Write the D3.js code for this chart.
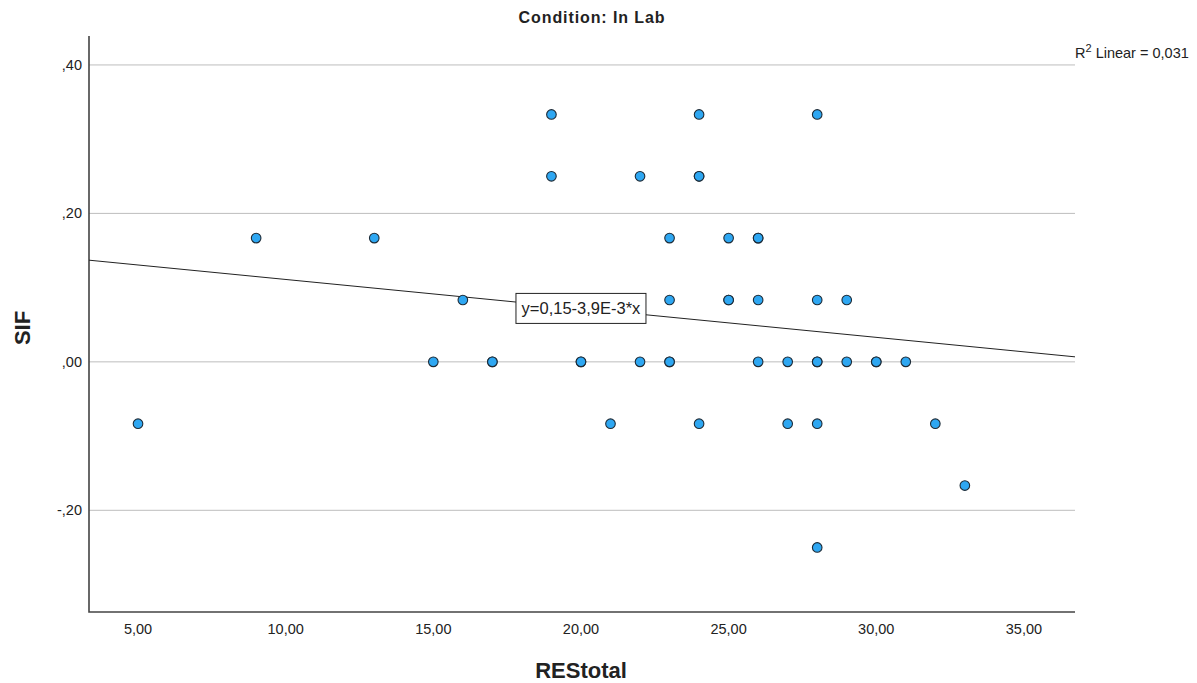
<!doctype html>
<html>
  <head>
    <meta charset="utf-8">
    <script src="https://cdn.jsdelivr.net/npm/d3@7"></script>
    <style>
      body { margin: 0; background: #fff; }
      text { font-family: "Liberation Sans", Arial, sans-serif; fill: #222; }
    </style>
  </head>
  <body>
    <svg id="chart" width="1197" height="683"></svg>

    <script>
      // REStotal / SIF pairs (duplicates drawn twice)
      var resTotal = [19, 24, 28,
                      19, 22, 24, 24,
                      9, 13, 23, 25, 26, 26,
                      16, 23, 25, 25, 26, 28, 29,
                      15, 17, 17, 20, 20, 22, 23, 23, 26, 27, 28, 28, 29, 30, 30, 31,
                      5, 21, 24, 27, 28, 32,
                      33,
                      28];
      var sifValues = [0.3333, 0.3333, 0.3333,
                       0.25, 0.25, 0.25, 0.25,
                       0.1667, 0.1667, 0.1667, 0.1667, 0.1667, 0.1667,
                       0.0833, 0.0833, 0.0833, 0.0833, 0.0833, 0.0833, 0.0833,
                       0, 0, 0, 0, 0, 0, 0, 0, 0, 0, 0, 0, 0, 0, 0, 0,
                       -0.0833, -0.0833, -0.0833, -0.0833, -0.0833, -0.0833,
                       -0.1667,
                       -0.25];

      var xTicks = [5, 10, 15, 20, 25, 30, 35];
      var yTicks = [0.4, 0.2, 0, -0.2];

      // fit line as printed on the chart
      var fitIntercept = 0.15;
      var fitSlope = -0.0039;
      var fitLabel = "y=0,15-3,9E-3*x";
      var r2Value = "0,031";

      var svg = d3.select("#chart");
      // plot box edges (don't call these top/left: window.top is read-only)
      var plotL = 89, plotR = 1075, plotT = 36, plotB = 612;

      var x = d3.scaleLinear().domain([3.34, 36.73]).range([plotL, plotR]);
      var y = d3.scaleLinear().domain([-0.337, 0.439]).range([plotB, plotT]);

      var comma = function(v, digits) {
        return v.toFixed(digits).replace(".", ",").replace(/^(-?)0,/, "$1,");
      };

      // gridlines
      svg.append("g").selectAll("line")
        .data(yTicks)
        .enter().append("line")
          .attr("x1", plotL).attr("x2", plotR)
          .attr("y1", function(d) { return y(d); })
          .attr("y2", function(d) { return y(d); })
          .attr("stroke", "#bdbdbd")
          .attr("stroke-width", 1);

      // y tick labels
      svg.append("g").selectAll("text")
        .data(yTicks)
        .enter().append("text")
          .attr("x", 82)
          .attr("y", function(d) { return y(d); })
          .attr("dy", "0.35em")
          .attr("text-anchor", "end")
          .attr("font-size", 14.5)
          .text(function(d) { return comma(d, 2); });

      // x tick labels
      svg.append("g").selectAll("text")
        .data(xTicks)
        .enter().append("text")
          .attr("x", function(d) { return x(d); })
          .attr("y", 629)
          .attr("dy", "0.35em")
          .attr("text-anchor", "middle")
          .attr("font-size", 14.5)
          .text(function(d) { return d.toFixed(2).replace(".", ","); });

      // axes frame (left + bottom)
      svg.append("path")
        .attr("d", "M" + plotL + "," + plotT + "V" + plotB + "H" + plotR)
        .attr("fill", "none")
        .attr("stroke", "#444")
        .attr("stroke-width", 1.6);

      // regression line
      var x0 = x.domain()[0], x1 = x.domain()[1];
      svg.append("line")
        .attr("x1", x(x0)).attr("y1", y(fitIntercept + fitSlope * x0))
        .attr("x2", x(x1)).attr("y2", y(fitIntercept + fitSlope * x1))
        .attr("stroke", "#222")
        .attr("stroke-width", 1);

      // points
      svg.append("g").selectAll("circle")
        .data(resTotal)
        .enter().append("circle")
          .attr("cx", function(d) { return x(d); })
          .attr("cy", function(d, i) { return y(sifValues[i]); })
          .attr("r", 4.8)
          .attr("fill", "#2ea7f2")
          .attr("stroke", "#1c2a36")
          .attr("stroke-width", 1.1);

      // fit equation box, centred on the line at x = 20
      var lx = 20, ly = fitIntercept + fitSlope * lx;
      var lab = svg.append("g")
        .attr("transform", "translate(" + x(lx) + "," + y(ly) + ")");
      lab.append("rect")
        .attr("x", -65).attr("y", -15)
        .attr("width", 130).attr("height", 30)
        .attr("fill", "#fff")
        .attr("stroke", "#222")
        .attr("stroke-width", 1);
      lab.append("text")
        .attr("text-anchor", "middle")
        .attr("dy", "0.35em")
        .attr("font-size", 16.5)
        .text(fitLabel);

      // R² annotation
      var r2 = svg.append("text")
        .attr("x", 1075)
        .attr("y", 58)
        .attr("font-size", 14.5);
      r2.append("tspan").text("R");
      r2.append("tspan").attr("dy", -6).attr("font-size", 11).text("2");
      r2.append("tspan").attr("dy", 6).text(" Linear = " + r2Value);

      // title
      svg.append("text")
        .attr("x", 592)
        .attr("y", 17)
        .attr("dy", "0.35em")
        .attr("text-anchor", "middle")
        .attr("font-size", 16)
        .attr("letter-spacing", 0.9)
        .attr("font-weight", "bold")
        .text("Condition: In Lab");

      // axis titles
      svg.append("text")
        .attr("x", 581)
        .attr("y", 670)
        .attr("dy", "0.35em")
        .attr("text-anchor", "middle")
        .attr("font-size", 22)
        .attr("font-weight", "bold")
        .text("REStotal");

      svg.append("text")
        .attr("transform", "translate(22,328) rotate(-90)")
        .attr("dy", "0.35em")
        .attr("text-anchor", "middle")
        .attr("font-size", 22)
        .attr("font-weight", "bold")
        .text("SIF");
    </script>
  </body>
</html>
